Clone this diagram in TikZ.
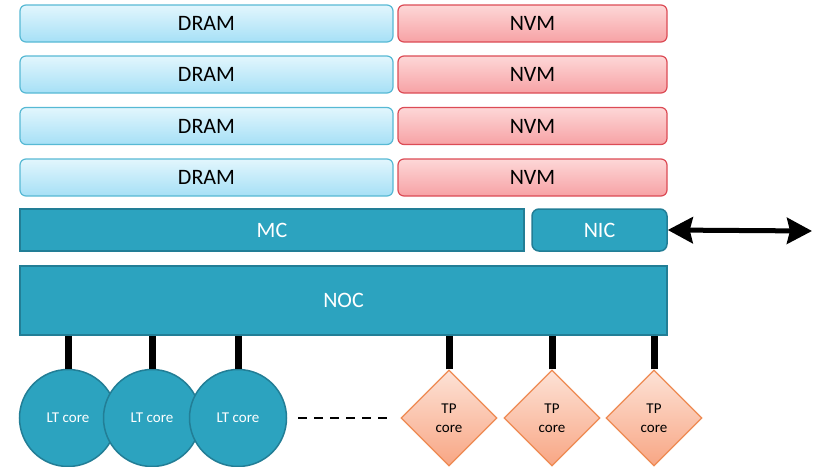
\documentclass[tikz,border=0pt]{standalone}
\usepackage{fontspec}
\setmainfont{Carlito}
\usetikzlibrary{shapes.geometric,arrows.meta}
\definecolor{dramtop}{HTML}{E2F6FD}
\definecolor{drambot}{HTML}{A6E0F6}
\definecolor{dramline}{HTML}{57B9D4}
\definecolor{nvmtop}{HTML}{FDD7D7}
\definecolor{nvmbot}{HTML}{F7A2A5}
\definecolor{nvmline}{HTML}{DC4B55}
\definecolor{teal1}{HTML}{2CA3BF}
\definecolor{tealline}{HTML}{227E96}
\definecolor{tptop}{HTML}{FDE2D6}
\definecolor{tpbot}{HTML}{F8A684}
\definecolor{tpline}{HTML}{EE8A52}
\tikzset{
  x=1pt,y=-1pt,
  dramb/.style={draw=dramline,line width=1.2pt,rounded corners=6pt,top color=dramtop,bottom color=drambot,
    minimum width=373pt,minimum height=37pt,inner sep=0pt,font=\fontsize{22}{24}\selectfont},
  nvmb/.style={draw=nvmline,line width=1.2pt,rounded corners=6pt,top color=nvmtop,bottom color=nvmbot,
    minimum width=269pt,minimum height=37pt,inner sep=0pt,font=\fontsize{22}{24}\selectfont},
  tealb/.style={draw=tealline,line width=1.5pt,fill=teal1,text=white,inner sep=0pt,font=\fontsize{22}{24}\selectfont},
  ltcore/.style={circle,draw=tealline,line width=1.5pt,fill=teal1,text=white,minimum size=97pt,inner sep=0pt,
    font=\fontsize{15}{18}\selectfont},
  tpcore/.style={diamond,aspect=1,draw=tpline,line width=1.3pt,top color=tptop,bottom color=tpbot,
    minimum width=96pt,minimum height=96pt,inner sep=0pt,align=center,font=\fontsize{15}{19}\selectfont},
  stub/.style={line width=7pt,black},
  bigarrow/.style={line width=5pt,{Stealth[length=25pt,width=26pt,inset=3pt]}-{Stealth[length=25pt,width=26pt,inset=3pt]}},
  dots/.style={line width=2pt,dash pattern=on 9pt off 7pt}
}
\begin{document}
\begin{tikzpicture}
\useasboundingbox (0,0) rectangle (813,466);
\clip (0,0) rectangle (813,466);
% memory rows
\node[dramb] (d1) at (206.5,23.5) {DRAM};
\node[nvmb]  (n1) at (532.5,23.5) {NVM};
\node[dramb] (d2) at (206.5,74.5) {DRAM};
\node[nvmb]  (n2) at (532.5,74.5) {NVM};
\node[dramb] (d3) at (206.5,126) {DRAM};
\node[nvmb]  (n3) at (532.5,126) {NVM};
\node[dramb] (d4) at (206.5,177.5) {DRAM};
\node[nvmb]  (n4) at (532.5,177.5) {NVM};
% MC / NIC
\node[tealb,minimum width=504pt,minimum height=42pt] (mc) at (272,230) {MC};
\node[tealb,rounded corners=7pt,minimum width=135pt,minimum height=42pt] (nic) at (599.5,230) {NIC};
% NOC
\node[tealb,minimum width=647pt,minimum height=69pt] (noc) at (343.5,300.5) {NOC};
% cores
\node[ltcore] (lt1) at (68,418) {LT core};
\node[ltcore] (lt2) at (152,418) {LT core};
\node[ltcore] (lt3) at (238,418) {LT core};
\node[tpcore] (tp1) at (449,418) {TP\\core};
\node[tpcore] (tp2) at (552,418) {TP\\core};
\node[tpcore] (tp3) at (654,418) {TP\\core};
% stubs
\foreach \c in {lt1,lt2,lt3,tp1,tp2,tp3}{
  \draw[stub] (\c.north) -- (\c.north |- noc.south);
}
% dashed continuation
\coordinate (dsA) at (298,418);
\coordinate (dsB) at (390,418);
\draw[dots] (dsA) -- (dsB);
% network arrow
\coordinate (netend) at (812,231);
\draw[bigarrow] (nic.east) -- (netend);
\end{tikzpicture}
\end{document}
